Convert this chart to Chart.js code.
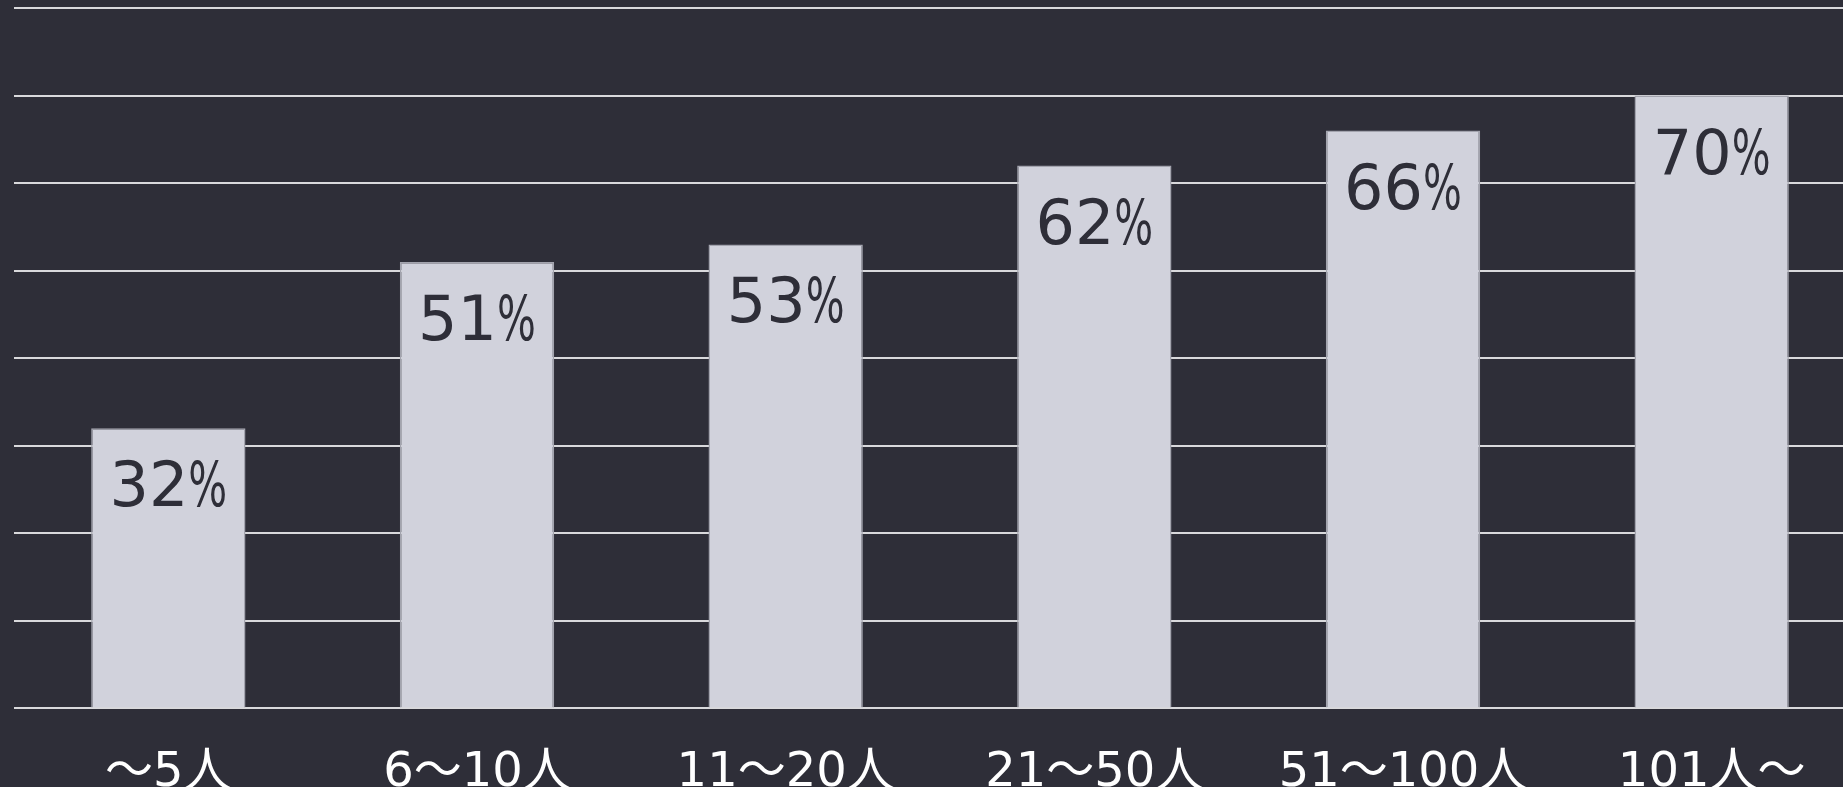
<!DOCTYPE html>
<html>
<head>
<meta charset="utf-8">
<script src="https://cdn.jsdelivr.net/npm/chart.js@4/dist/chart.umd.min.js"></script>
<style>
  html, body { margin: 0; padding: 0; background: #2e2e38; overflow: hidden; }
  #wrap { position: relative; width: 1866px; height: 830px; }
</style>
</head>
<body>
<div id="wrap"><canvas id="chart"></canvas></div>
<script>
// Share by company size (people)
const categories = ['～5人', '6～10人', '11～20人', '21～50人', '51～100人', '101人～'];
const shares = [32, 51, 53, 62, 66, 70];
const yTicks = [0, 10, 20, 30, 40, 50, 60, 70, 80];

const BG = '#2e2e38';
const BAR = '#d1d2dc';
const GRID = '#d9d9dc';
const LABEL_FONT = "'DejaVu Sans', 'Noto Sans CJK JP', sans-serif";

// Percent labels written inside the top of each bar
const valueLabels = {
  id: 'valueLabels',
  afterDatasetsDraw(chart) {
    const ctx = chart.ctx;
    const meta = chart.getDatasetMeta(0);
    ctx.save();
    ctx.fillStyle = BG;
    ctx.textBaseline = 'alphabetic';
    ctx.textAlign = 'left';
    meta.data.forEach((bar, i) => {
      const num = String(shares[i]);
      ctx.font = "62px " + LABEL_FONT;
      const numW = ctx.measureText(num).width;
      const pctW = ctx.measureText('%').width * 0.66;
      const total = numW + pctW;
      const x0 = bar.x - total / 2;
      const y = bar.y + 78;
      ctx.fillText(num, x0, y);
      ctx.save();
      ctx.translate(x0 + numW, y);
      ctx.scale(0.66, 1);
      ctx.fillText('%', 0, 0);
      ctx.restore();
    });
    ctx.restore();
  }
};

new Chart(document.getElementById('chart'), {
  type: 'bar',
  data: {
    labels: categories,
    datasets: [{
      data: shares,
      backgroundColor: BAR,
      borderColor: '#a3a4ae',
      borderWidth: 1.5,
      barPercentage: 0.5,
      categoryPercentage: 1.0
    }]
  },
  options: {
    responsive: true,
    maintainAspectRatio: false,
    animation: false,
    devicePixelRatio: 1,
    layout: { padding: { left: 14, top: 8, right: 0, bottom: 0 } },
    plugins: {
      legend: { display: false },
      tooltip: { enabled: false }
    },
    scales: {
      x: {
        grid: { display: false },
        border: { display: false },
        ticks: {
          color: '#ffffff',
          padding: 28,
          maxRotation: 0,
          autoSkip: false,
          font: { family: LABEL_FONT, size: 48 }
        }
      },
      y: {
        min: yTicks[0],
        max: yTicks[yTicks.length - 1],
        ticks: { display: false, stepSize: yTicks[1] - yTicks[0] },
        grid: { color: GRID, lineWidth: 2, drawTicks: false },
        border: { display: false }
      }
    }
  },
  plugins: [valueLabels]
});
</script>
</body>
</html>
